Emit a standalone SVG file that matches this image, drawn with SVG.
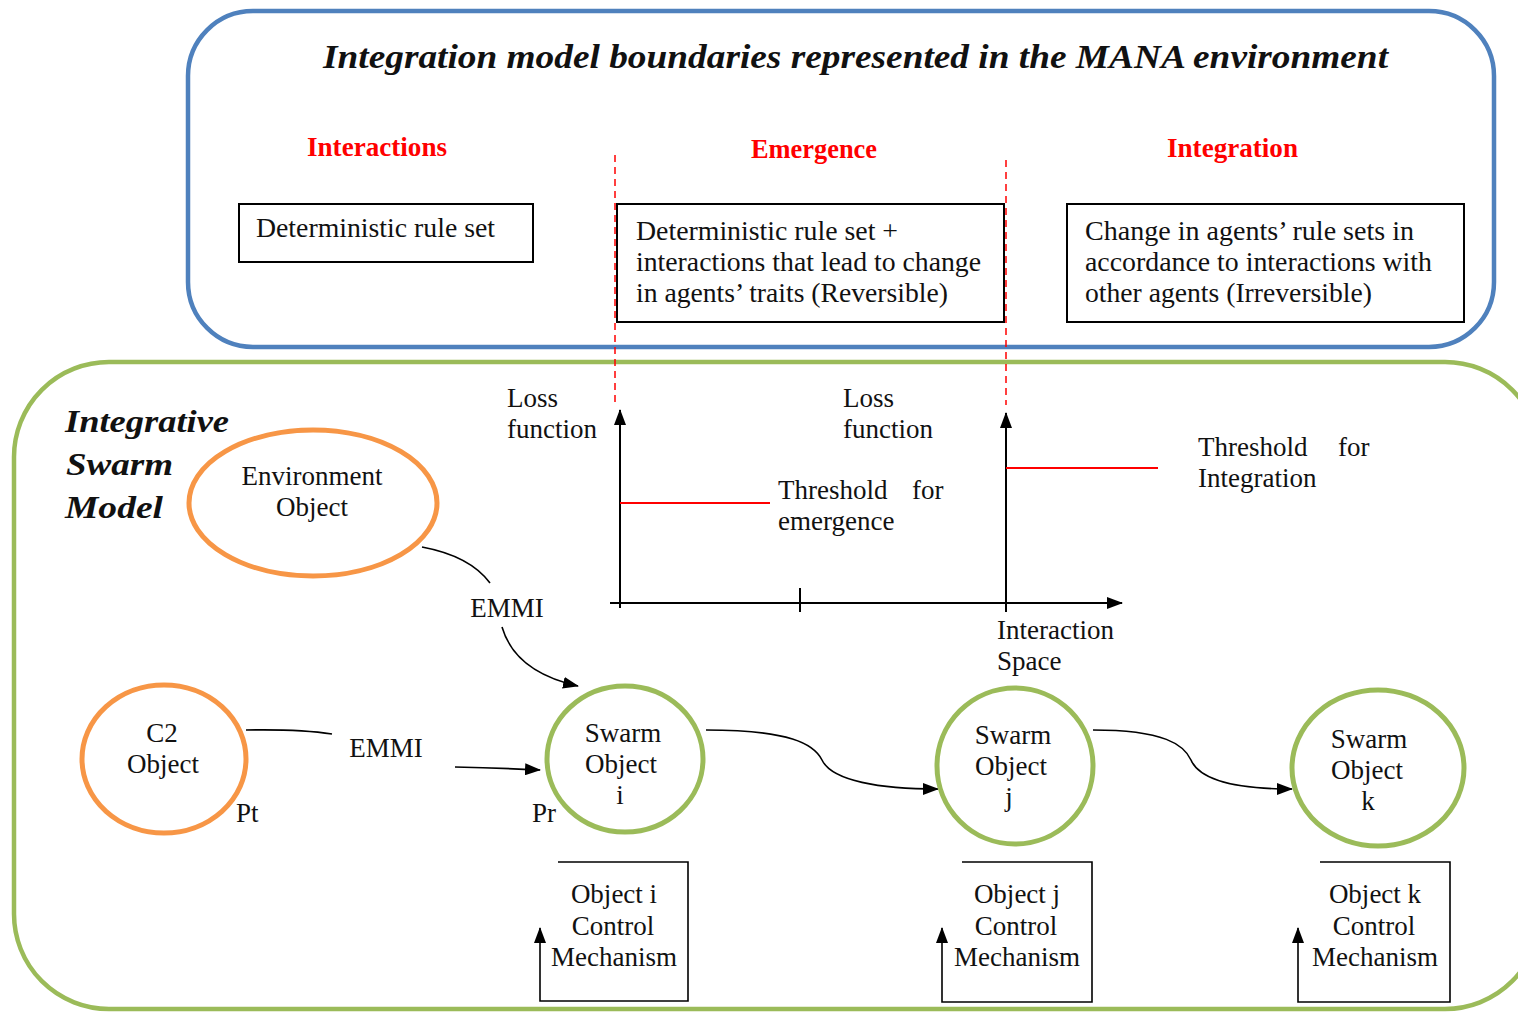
<svg xmlns="http://www.w3.org/2000/svg" width="1518" height="1014" viewBox="0 0 1518 1014">
<defs>
<marker id="arr" markerWidth="16" markerHeight="12" refX="15" refY="6" orient="auto" markerUnits="userSpaceOnUse"><path d="M0,0 L16,6 L0,12 z" fill="#000"/></marker>
<style>
text{font-family:"Liberation Serif","Times New Roman",serif;fill:#111;font-size:27px}
.c{text-anchor:middle}
.hdr{fill:#ff0000;font-weight:bold;font-size:27px}
.ttl{font-weight:bold;font-style:italic;font-size:34px}
.ism{font-weight:bold;font-style:italic;font-size:31px}
.box{fill:#fff;stroke:#000;stroke-width:2}
.conn{fill:none;stroke:#000;stroke-width:1.6}
.axis{fill:none;stroke:#000;stroke-width:2}
.red{stroke:#ff0000;stroke-width:2;fill:none}
.dash{stroke:#ff0000;stroke-width:1.5;stroke-dasharray:7,5;fill:none}
.org{fill:#fff;stroke:#f79646;stroke-width:5}
.grn{fill:#fff;stroke:#9bbb59;stroke-width:5}
</style>
</defs>
<rect id="boundary-mana" x="188" y="11" width="1306" height="336" rx="65" ry="65" fill="none" stroke="#4f81bd" stroke-width="4.5"/>
<rect id="boundary-swarm" x="14" y="362" width="1526" height="647" rx="95" ry="95" fill="none" stroke="#9bbb59" stroke-width="4.5"/>
<text class="ttl" x="323" y="68" textLength="1065" lengthAdjust="spacingAndGlyphs">Integration model boundaries represented in the MANA environment</text>
<text class="hdr" x="307" y="156" textLength="140" lengthAdjust="spacingAndGlyphs">Interactions</text>
<text class="hdr" x="751" y="158" textLength="126" lengthAdjust="spacingAndGlyphs">Emergence</text>
<text class="hdr" x="1167" y="157" textLength="131" lengthAdjust="spacingAndGlyphs">Integration</text>
<g id="box-interactions">
<rect class="box" x="239" y="204" width="294" height="58"/>
<text x="256" y="237" textLength="239" lengthAdjust="spacingAndGlyphs">Deterministic rule set</text>
</g>
<g id="box-emergence">
<rect class="box" x="617" y="204" width="387" height="118"/>
<text x="636" y="240" textLength="262" lengthAdjust="spacingAndGlyphs">Deterministic rule set +</text>
<text x="636" y="271" textLength="345" lengthAdjust="spacingAndGlyphs">interactions that lead to change</text>
<text x="636" y="302" textLength="312" lengthAdjust="spacingAndGlyphs">in agents’ traits (Reversible)</text>
</g>
<g id="box-integration">
<rect class="box" x="1067" y="204" width="397" height="118"/>
<text x="1085" y="240" textLength="329" lengthAdjust="spacingAndGlyphs">Change in agents’ rule sets in</text>
<text x="1085" y="271" textLength="347" lengthAdjust="spacingAndGlyphs">accordance to interactions with</text>
<text x="1085" y="302" textLength="287" lengthAdjust="spacingAndGlyphs">other agents (Irreversible)</text>
</g>
<line class="dash" x1="615" y1="155" x2="615" y2="402"/>
<line class="dash" x1="1006" y1="160" x2="1006" y2="405"/>
<g id="chart">
<line class="axis" x1="620" y1="608" x2="620" y2="410" marker-end="url(#arr)"/>
<line class="axis" x1="1006" y1="612" x2="1006" y2="413" marker-end="url(#arr)"/>
<line class="axis" x1="610" y1="603" x2="1122" y2="603" marker-end="url(#arr)"/>
<line class="axis" x1="800" y1="588" x2="800" y2="612"/>
<line class="red" x1="620" y1="503" x2="770" y2="503"/>
<line class="red" x1="1006" y1="468" x2="1158" y2="468"/>
<text x="507" y="407">Loss</text>
<text x="507" y="438">function</text>
<text x="843" y="407">Loss</text>
<text x="843" y="438">function</text>
<text y="499"><tspan x="778">Threshold</tspan><tspan x="912">for</tspan></text>
<text x="778" y="530">emergence</text>
<text y="456"><tspan x="1198">Threshold</tspan><tspan x="1338">for</tspan></text>
<text x="1198" y="487">Integration</text>
<text x="997" y="639">Interaction</text>
<text x="997" y="670">Space</text>
</g>
<g id="label-ism">
<text class="ism" x="65" y="432" textLength="164" lengthAdjust="spacingAndGlyphs">Integrative</text>
<text class="ism" x="66" y="475" textLength="107" lengthAdjust="spacingAndGlyphs">Swarm</text>
<text class="ism" x="65" y="518" textLength="98" lengthAdjust="spacingAndGlyphs">Model</text>
</g>
<g id="connectors">
<path class="conn" d="M422,547 Q470,556 490,583"/>
<path class="conn" d="M502,627 Q515,672 578,686" marker-end="url(#arr)"/>
<text class="c" x="507" y="617">EMMI</text>
<path class="conn" d="M246,730 Q300,729 332,734"/>
<path class="conn" d="M455,767 Q500,768 540,770" marker-end="url(#arr)"/>
<text class="c" x="386" y="757">EMMI</text>
<path class="conn" d="M706,730 C790,730 814,744 822,760 C832,781 880,789 938,789" marker-end="url(#arr)"/>
<path class="conn" d="M1093,730 C1165,730 1184,745 1191,760 C1200,781 1240,789 1292,789" marker-end="url(#arr)"/>
<text x="236" y="822">Pt</text>
<text x="532" y="822">Pr</text>
</g>
<g id="env-object">
<ellipse class="org" cx="313" cy="503" rx="124" ry="73"/>
<text class="c" x="312" y="485">Environment</text>
<text class="c" x="312" y="516">Object</text>
</g>
<g id="c2-object">
<ellipse class="org" cx="164" cy="759" rx="82" ry="74"/>
<text class="c" x="162" y="742">C2</text>
<text class="c" x="163" y="773">Object</text>
</g>
<g id="swarm-i">
<ellipse class="grn" cx="625" cy="759" rx="78" ry="73"/>
<text class="c" x="623" y="742">Swarm</text>
<text class="c" x="621" y="773">Object</text>
<text class="c" x="620" y="804">i</text>
</g>
<g id="swarm-j">
<ellipse class="grn" cx="1015" cy="766" rx="78" ry="78"/>
<text class="c" x="1013" y="744">Swarm</text>
<text class="c" x="1011" y="775">Object</text>
<text class="c" x="1009" y="806">j</text>
</g>
<g id="swarm-k">
<ellipse class="grn" cx="1378" cy="768" rx="86" ry="78"/>
<text class="c" x="1369" y="748">Swarm</text>
<text class="c" x="1367" y="779">Object</text>
<text class="c" x="1368" y="810">k</text>
</g>
<g id="control-i">
<path class="conn" stroke-width="2" d="M558,862 H688 V1001 H540 V928" marker-end="url(#arr)"/>
<text class="c" x="614" y="903">Object i</text>
<text class="c" x="613" y="935">Control</text>
<text class="c" x="614" y="966">Mechanism</text>
</g>
<g id="control-j">
<path class="conn" stroke-width="2" d="M962,862 H1092 V1002 H942 V928" marker-end="url(#arr)"/>
<text class="c" x="1017" y="903">Object j</text>
<text class="c" x="1016" y="935">Control</text>
<text class="c" x="1017" y="966">Mechanism</text>
</g>
<g id="control-k">
<path class="conn" stroke-width="2" d="M1320,862 H1450 V1002 H1298 V928" marker-end="url(#arr)"/>
<text class="c" x="1375" y="903">Object k</text>
<text class="c" x="1374" y="935">Control</text>
<text class="c" x="1375" y="966">Mechanism</text>
</g>
</svg>
